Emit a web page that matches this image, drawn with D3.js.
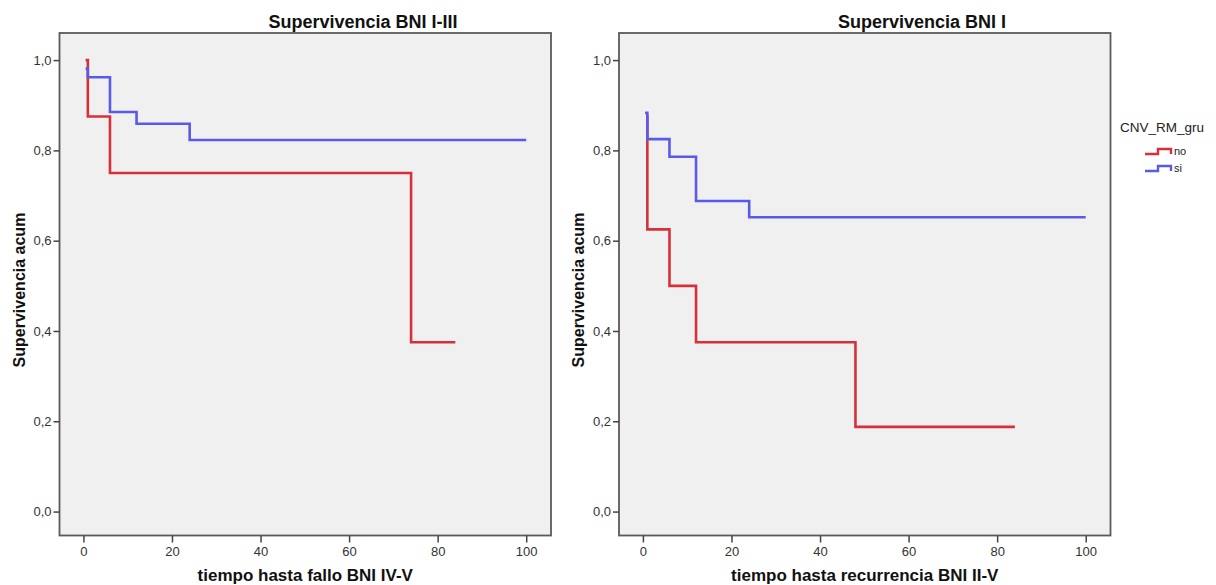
<!DOCTYPE html>
<html lang="es">
<head>
<meta charset="UTF-8">
<title>Supervivencia BNI</title>
<style>
  body { margin: 0; background: #fff; }
  svg { font-family: "Liberation Sans", Arial, sans-serif; }
  .tick text { fill: #333; font-size: 13px; }
  .tick line { stroke: #444; stroke-width: 1.5; }
</style>
</head>
<body>
<svg width="1216" height="585"></svg>
<script src="https://d3js.org/d3.v7.min.js"></script>
<script>
// tick values
var timeTicks = [0, 20, 40, 60, 80, 100];
var survTicks = [0.0, 0.2, 0.4, 0.6, 0.8, 1.0];

// groups (legend)
var groups = ["no", "si"];
var groupColors = ["#d8303a", "#5a5ae8"];

// panel 1: BNI I-III
var leftNoTime = [0.5, 1, 6, 74, 84];
var leftNoSurv = [1.0, 0.875, 0.75, 0.375, 0.375];
var leftSiTime = [0.5, 1, 6, 12, 24, 100];
var leftSiSurv = [0.981, 0.962, 0.885, 0.859, 0.823, 0.823];

// panel 2: BNI I
var rightNoTime = [0.7, 1, 6, 12, 48, 84];
var rightNoSurv = [0.875, 0.625, 0.5, 0.375, 0.1875, 0.1875];
var rightSiTime = [0.5, 1, 6, 12, 24, 100];
var rightSiSurv = [0.883, 0.825, 0.786, 0.688, 0.652, 0.652];

var panels = [
  { title: "Supervivencia BNI I-III", xLabel: "tiempo hasta fallo BNI IV-V",
    left: 59.5, right: 551, titleX: 363, yLabelX: 19,
    series: [[leftNoTime, leftNoSurv], [leftSiTime, leftSiSurv]] },
  { title: "Supervivencia BNI I", xLabel: "tiempo hasta recurrencia BNI II-V",
    left: 619, right: 1110.5, titleX: 922, yLabelX: 578,
    series: [[rightNoTime, rightNoSurv], [rightSiTime, rightSiSurv]] }
];

var plotTop = 33, plotBottom = 535.5;
var svg = d3.select("svg");

var y = d3.scaleLinear().domain([-0.053, 1.06]).range([plotBottom, plotTop]);
var fmt = function(d) { return d3.format(".1f")(d).replace(".", ","); };

panels.forEach(function(p) {
  var x = d3.scaleLinear().domain([-5.4, 105.6]).range([p.left, p.right]);
  var g = svg.append("g");

  g.append("rect")
    .attr("x", p.left).attr("y", plotTop)
    .attr("width", p.right - p.left).attr("height", plotBottom - plotTop)
    .attr("fill", "#f0f0f0")
    .attr("stroke", "#5a5a5a")
    .attr("stroke-width", 1.8);

  var yAxis = g.append("g")
    .attr("transform", "translate(" + p.left + ",0)")
    .call(d3.axisLeft(y).tickValues(survTicks).tickFormat(fmt).tickSize(6).tickPadding(2));
  yAxis.select(".domain").remove();

  var xAxis = g.append("g")
    .attr("transform", "translate(0," + plotBottom + ")")
    .call(d3.axisBottom(x).tickValues(timeTicks).tickSize(7).tickPadding(4));
  xAxis.select(".domain").remove();

  var line = d3.line()
    .x(function(d) { return x(d[0]); })
    .y(function(d) { return y(d[1]); })
    .curve(d3.curveStepAfter);

  p.series.forEach(function(s, i) {
    var pts = d3.zip(s[0], s[1]);
    g.append("path")
      .datum(pts)
      .attr("fill", "none")
      .attr("stroke", groupColors[i])
      .attr("stroke-width", 2.6)
      .attr("stroke-linejoin", "miter")
      .attr("d", line);
  });

  g.append("text")
    .attr("x", p.titleX).attr("y", 28)
    .attr("text-anchor", "middle")
    .attr("font-size", 18)
    .attr("font-weight", "bold")
    .attr("fill", "#111")
    .text(p.title);

  g.append("text")
    .attr("x", (p.left + p.right) / 2).attr("y", 581)
    .attr("text-anchor", "middle")
    .attr("font-size", 17)
    .attr("font-weight", "bold")
    .attr("fill", "#111")
    .text(p.xLabel);

  g.append("text")
    .attr("transform", "translate(" + (p.yLabelX + 6) + ",290) rotate(-90)")
    .attr("text-anchor", "middle")
    .attr("font-size", 16)
    .attr("font-weight", "bold")
    .attr("fill", "#111")
    .text("Supervivencia acum");
});

// legend
var lg = svg.append("g");
lg.append("text")
  .attr("x", 1162).attr("y", 132)
  .attr("text-anchor", "middle")
  .attr("font-size", 13.5)
  .attr("fill", "#222")
  .text("CNV_RM_gru");

groups.forEach(function(name, i) {
  var cy = 154 + i * 17;
  var sym = [[1145, cy], [1158, cy], [1158, cy - 5], [1171, cy - 5], [1171, cy]];
  lg.append("path")
    .datum(sym)
    .attr("fill", "none")
    .attr("stroke", groupColors[i])
    .attr("stroke-width", 2.4)
    .attr("d", d3.line());
  lg.append("text")
    .attr("x", 1174).attr("y", cy + 1)
    .attr("font-size", 11)
    .attr("fill", "#222")
    .text(name);
});
</script>
</body>
</html>
